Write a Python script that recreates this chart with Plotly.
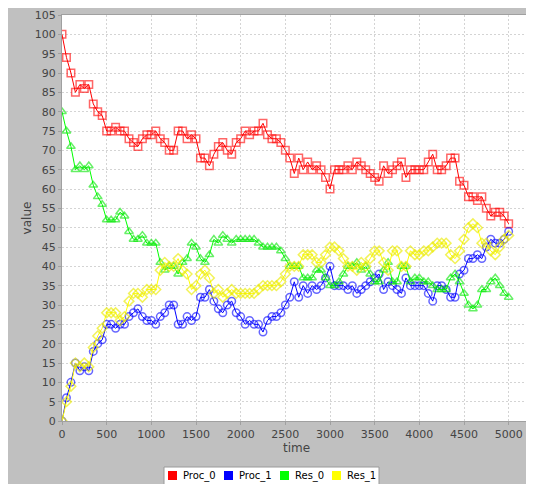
import plotly.graph_objects as go

time = list(range(0, 5001, 50))

proc_0 = [100, 94, 90, 85, 87, 86, 87, 82, 80, 79,
          75, 75, 76, 75, 75, 73, 72, 71, 73, 74,
          74, 75, 73, 72, 70, 70, 75, 75, 73, 74,
          73, 68, 68, 66, 69, 71, 72, 70, 69, 72,
          73, 75, 74, 75, 75, 77, 74, 73, 73, 72,
          70, 68, 64, 68, 65, 67, 65, 66, 65, 63,
          60, 65, 65, 65, 66, 65, 67, 66, 65, 64,
          63, 62, 66, 64, 65, 66, 67, 63, 65, 65,
          65, 65, 67, 69, 65, 65, 66, 68, 68, 62,
          61, 58, 58, 57, 58, 55, 53, 54, 54, 53,
          51]

proc_1 = [0, 6, 10, 15, 13, 14, 13, 18, 20, 21,
          25, 25, 24, 25, 25, 27, 28, 29, 27, 26,
          26, 25, 27, 28, 30, 30, 25, 25, 27, 26,
          27, 32, 32, 34, 31, 29, 28, 30, 31, 28,
          27, 25, 26, 25, 25, 23, 26, 27, 27, 28,
          30, 32, 36, 32, 35, 33, 35, 34, 35, 37,
          40, 35, 35, 35, 34, 35, 33, 34, 35, 36,
          37, 38, 34, 36, 35, 34, 33, 37, 35, 35,
          35, 35, 33, 31, 35, 35, 34, 32, 32, 38,
          39, 42, 42, 43, 42, 45, 47, 46, 46, 47,
          49]

res_0 = [80, 75, 71, 65, 66, 65, 66, 61, 58, 56,
         52, 52, 52, 54, 53, 49, 47, 47, 48, 46,
         46, 46, 41, 39, 40, 40, 38, 41, 42, 46,
         45, 42, 41, 43, 47, 46, 48, 47, 46, 47,
         47, 47, 47, 47, 46, 45, 45, 45, 45, 44,
         42, 40, 40, 40, 37, 37, 37, 39, 39, 37,
         35, 35, 36, 38, 40, 40, 41, 39, 40, 38,
         36, 36, 39, 41, 36, 36, 40, 40, 36, 37,
         37, 36, 36, 35, 34, 34, 34, 37, 38, 36,
         33, 30, 29, 30, 34, 34, 36, 37, 35, 33,
         32]

res_1 = [0, 5, 9, 15, 14, 15, 14, 19, 22, 24,
         28, 28, 28, 26, 27, 31, 33, 33, 32, 34,
         34, 34, 39, 41, 40, 40, 42, 39, 38, 34,
         35, 38, 39, 37, 33, 34, 32, 33, 34, 33,
         33, 33, 33, 33, 34, 35, 35, 35, 35, 36,
         38, 40, 40, 40, 43, 43, 43, 41, 41, 43,
         45, 45, 44, 42, 40, 40, 39, 41, 40, 42,
         44, 44, 41, 39, 44, 44, 40, 40, 44, 43,
         43, 44, 44, 45, 46, 46, 46, 43, 42, 44,
         47, 50, 51, 50, 46, 46, 44, 43, 45, 47,
         48]

series_names = ["Proc_0", "Proc_1", "Res_0", "Res_1"]
series_values = [proc_0, proc_1, res_0, res_1]
x_ticks = list(range(0, 5001, 500))
y_ticks = list(range(0, 106, 5))

colors = ["#ff0000", "#0000ff", "#00ff00", "#ffff00"]
marker_colors = ["rgba(255,0,0,0.6)", "rgba(0,0,255,0.6)",
                 "rgba(0,230,0,0.6)", "rgba(235,235,0,0.65)"]
symbols = ["square-open", "circle-open", "triangle-up-open", "diamond-open"]

fig = go.Figure()
for name, vals, c, mc, sym in zip(series_names, series_values, colors, marker_colors, symbols):
    fig.add_trace(go.Scatter(
        x=time, y=vals, mode="lines+markers", name=name, showlegend=False,
        line=dict(color=c, width=1),
        marker=dict(symbol=sym, size=7.5, color=mc, line=dict(width=1.5, color=mc)),
    ))

font = "DejaVu Sans, Verdana, sans-serif"
# the page has an 8px body margin; figure occupies page x 8..534, y 8..484
W, H = 526, 476
L, R, T, B = 54, 3, 7, 63
pw = W - L - R
ph = H - T - B

def px(page_x):
    return (page_x - 8 - L) / pw

def py(page_y):
    return (H - B - (page_y - 8)) / ph

# boxed key below the plot
shapes = [dict(type="rect", xref="paper", yref="paper",
               x0=px(164), x1=px(379), y0=py(495), y1=py(467),
               fillcolor="#ffffff", line=dict(color="#9a9a9a", width=1))]
annotations = []
swatch_x = [168, 224, 280, 332]
for name, c, sx in zip(series_names, colors, swatch_x):
    shapes.append(dict(type="rect", xref="paper", yref="paper",
                       x0=px(sx), x1=px(sx + 9), y0=py(480), y1=py(471),
                       fillcolor=c, line=dict(width=0)))
    annotations.append(dict(xref="paper", yref="paper", x=px(sx + 13), y=py(476),
                            xanchor="left", yanchor="middle", showarrow=False,
                            text=name, font=dict(family=font, size=10, color="#000000")))

fig.update_layout(
    width=W, height=H,
    margin=dict(l=L, r=R, t=T, b=B, autoexpand=False),
    paper_bgcolor="#c0c0c0",
    plot_bgcolor="#ffffff",
    font=dict(family=font, size=11, color="#444444"),
    showlegend=False,
    shapes=shapes,
    annotations=annotations,
)

axis_common = dict(
    showgrid=True, gridcolor="#d4d4d4", griddash="2px,2px", gridwidth=1,
    zeroline=False, showline=True, linecolor="#a0a0a0", linewidth=1, mirror=True,
    ticks="outside", ticklen=3, tickcolor="#a0a0a0",
    tickfont=dict(family=font, size=11, color="#444444"),
)

fig.update_xaxes(
    range=[0, 5250], tickvals=x_ticks, ticktext=[str(v) for v in x_ticks],
    title=dict(text="time", font=dict(family=font, size=12, color="#444444"), standoff=3),
    **axis_common,
)
fig.update_yaxes(
    range=[0, 105], tickvals=y_ticks, ticktext=[str(v) for v in y_ticks],
    title=dict(text="value", font=dict(family=font, size=12, color="#444444"), standoff=0),
    **axis_common,
)

fig.write_html("out.html")
